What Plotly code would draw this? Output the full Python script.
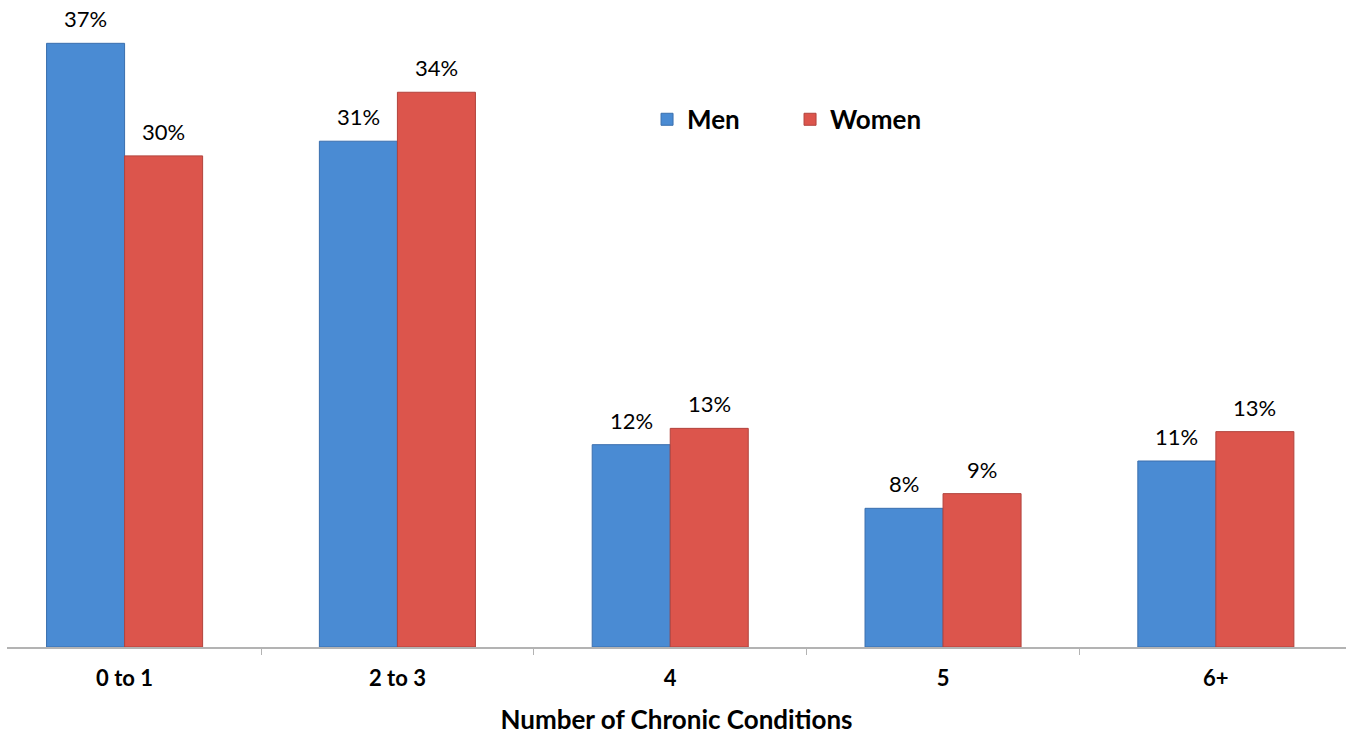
import plotly.graph_objects as go

categories = ["0 to 1", "2 to 3", "4", "5", "6+"]
men = [37.0, 31.0, 12.4, 8.5, 11.4]
women = [30.1, 34.0, 13.4, 9.4, 13.2]
men_labels = ["37%", "31%", "12%", "8%", "11%"]
women_labels = ["30%", "34%", "13%", "9%", "13%"]

FONT = "Lato, Open Sans, sans-serif"
BLUE = "#4a8bd3"
RED = "#dc554c"

fig = go.Figure()
fig.add_trace(go.Bar(name="Men", x=categories, y=men,
                     marker=dict(color=BLUE, line=dict(color="#3a6fae", width=1))))
fig.add_trace(go.Bar(name="Women", x=categories, y=women,
                     marker=dict(color=RED, line=dict(color="#b2433c", width=1))))

groupw = 0.572
off = groupw / 4
for i, (v, t) in enumerate(zip(men, men_labels)):
    fig.add_annotation(x=i - off, y=v, text=t, xref="x", yref="y", showarrow=False,
                       yanchor="bottom", yshift=9, font=dict(family=FONT, size=22, color="#000"))
for i, (v, t) in enumerate(zip(women, women_labels)):
    fig.add_annotation(x=i + off, y=v, text=t, xref="x", yref="y", showarrow=False,
                       yanchor="bottom", yshift=9, font=dict(family=FONT, size=22, color="#000"))

fig.update_layout(
    width=1349, height=735,
    margin=dict(l=7, r=3, t=27, b=88),
    paper_bgcolor="white", plot_bgcolor="white",
    barmode="group", bargap=1 - groupw, bargroupgap=0,
    font=dict(family=FONT, color="#000"),
    legend=dict(orientation="h", x=0.478, y=0.851, xanchor="left", yanchor="middle",
                font=dict(family=FONT, size=26, color="#000", weight="bold"),
                entrywidth=98, bgcolor="rgba(0,0,0,0)"),
    xaxis=dict(type="category", range=[-0.431, 4.477], showline=True,
               linecolor="#b3b3b3", linewidth=1.5, ticks="outside", tickson="boundaries",
               ticklen=6, tickcolor="#b3b3b3", tickwidth=1, ticklabelstandoff=11,
               tickfont=dict(family=FONT, size=22, color="#000", weight="bold"),
               title=dict(text="Number of Chronic Conditions", standoff=21,
                          font=dict(family=FONT, size=26, color="#000", weight="bold")),
               showgrid=False, zeroline=False),
    yaxis=dict(range=[0, 38], visible=False, showgrid=False, zeroline=False),
)

fig.write_html("out.html", config={"displayModeBar": False},
               post_script="document.body.style.margin='0';")
